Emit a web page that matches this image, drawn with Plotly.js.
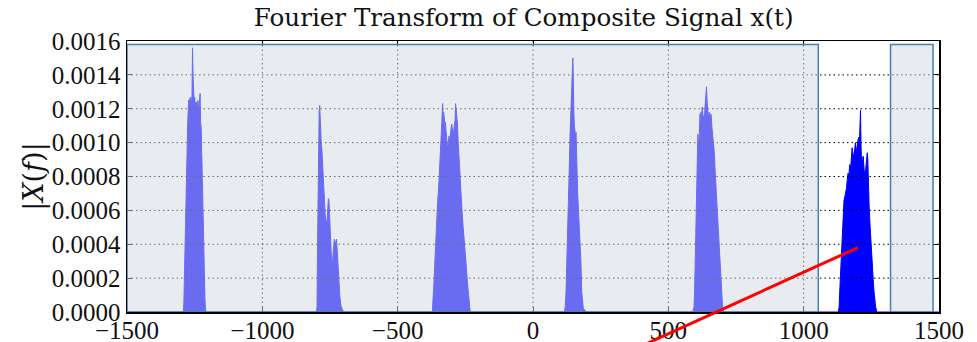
<!DOCTYPE html>
<html><head><meta charset="utf-8">
<script src="https://cdn.plot.ly/plotly-3.0.1.min.js"></script>
<style>html,body{margin:0;padding:0;background:#fff}#chart{width:977px;height:342px}</style>
</head><body><div id="chart"></div>
<script>
const titleText = 'Fourier Transform of Composite Signal x(t)';
const yLabel = '|<i>X</i>(<i>f</i>)|';
const xTicks = [-1500, -1000, -500, 0, 500, 1000, 1500];
const yTicks = [0, 0.0002, 0.0004, 0.0006, 0.0008, 0.0010, 0.0012, 0.0014, 0.0016];

const c1X = [-1292,-1290,-1288,-1286,-1284,-1282,-1280,-1278,-1276,-1274,-1272,-1270,-1268,-1266,-1264,-1262,-1260,-1258,-1256,-1254,-1252,-1250,-1248,-1246,-1244,-1242,-1240,-1238,-1236,-1234,-1232,-1230,-1228,-1226,-1224,-1222,-1220,-1218,-1216,-1214,-1212,-1210,-1208];
const c1Y = [0,0.00005,0.0002,0.0004,0.0006,0.0008,0.00097,0.00099,0.00110,0.00118,0.00125,0.00123,0.00126,0.00124,0.00127,0.00122,0.00126,0.00156,0.00140,0.00125,0.00123,0.00127,0.00121,0.00124,0.00119,0.00124,0.00122,0.00125,0.00121,0.00118,0.00124,0.00129,0.00112,0.00109,0.00095,0.00078,0.00062,0.00048,0.00034,0.00020,0.00008,0.00002,0];

const c2X = [-800,-798,-796,-794,-792,-790,-788,-786,-784,-782,-780,-778,-776,-774,-772,-770,-768,-766,-764,-762,-760,-758,-756,-754,-752,-750,-748,-746,-744,-742,-740,-738,-736,-734,-732,-730,-728,-726,-724,-722,-720,-718,-716,-714,-712,-710,-706,-700];
const c2Y = [0,0.00003,0.0004,0.0008,0.0011,0.00118,0.00122,0.00108,0.00104,0.00098,0.00096,0.00088,0.00083,0.00072,0.00066,0.00062,0.00058,0.00055,0.00053,0.00052,0.00056,0.00064,0.00067,0.00066,0.00058,0.00050,0.00042,0.00036,0.00030,0.00029,0.00031,0.00036,0.00041,0.00043,0.00042,0.00040,0.00041,0.00043,0.00038,0.00030,0.00026,0.00022,0.00016,0.00010,0.00006,0.00004,0.00002,0];

const c3X = [-372,-370,-367,-365,-362,-360,-358,-355,-352,-349,-346,-343,-341,-339,-337,-335,-334,-332,-330,-328,-326,-324,-321,-318,-316,-313,-310,-308,-306,-303,-300,-298,-296,-294,-291,-288,-286,-284,-282,-279,-277,-275,-272,-269,-266,-263,-259,-255,-251,-247,-242,-238,-235,-232];
const c3Y = [0,0.00004,0.00014,0.00021,0.00033,0.00043,0.00052,0.00058,0.00066,0.00072,0.00080,0.00091,0.00098,0.00105,0.00112,0.00118,0.00123,0.00116,0.00118,0.00115,0.00110,0.00112,0.00105,0.00100,0.00097,0.00100,0.00104,0.00101,0.00102,0.00108,0.00111,0.00108,0.00104,0.00105,0.00110,0.00113,0.00123,0.00120,0.00113,0.00111,0.00102,0.00095,0.00085,0.00076,0.00070,0.00062,0.00052,0.00045,0.00036,0.00028,0.00017,0.00008,0.00002,0];

const c4X = [116,119,122,125,128,131,134,137,139,141,143,145,147,148,149,151,153,155,157,159,161,163,165,168,171,174,177,180,183,186,192,198];
const c4Y = [0,0.00003,0.00012,0.00027,0.00045,0.00066,0.00085,0.00105,0.00115,0.00125,0.00128,0.00138,0.00150,0.00146,0.00125,0.00118,0.00110,0.00105,0.00104,0.00106,0.00089,0.00080,0.00070,0.00060,0.00052,0.00044,0.00030,0.00012,0.00006,0.00002,0.00001,0];

const c5X = [590,595,597,599,601,603,605,607,609,611,613,615,617,619,621,623,625,627,629,631,633,635,637,639,641,643,645,647,649,651,653,655,657,659,661,664,667,670,673,676,679,682,685,688,691,694,697,700,703,706];
const c5Y = [0,0.00003,0.00012,0.00025,0.00040,0.00055,0.00068,0.00085,0.00105,0.00100,0.00098,0.00112,0.00117,0.00113,0.00118,0.00116,0.00121,0.00118,0.00113,0.00116,0.00112,0.00120,0.00124,0.00128,0.00133,0.00125,0.00118,0.00120,0.00113,0.00118,0.00114,0.00112,0.00117,0.00115,0.00109,0.00104,0.00097,0.00094,0.00083,0.00074,0.00064,0.00054,0.00045,0.00036,0.00028,0.00021,0.00012,0.00004,0.00001,0];

const c6X = [1128,1131,1134,1137,1140,1143,1146,1149,1152,1155,1158,1161,1164,1167,1170,1173,1176,1179,1182,1185,1188,1191,1194,1197,1200,1203,1206,1208,1210,1212,1214,1217,1220,1223,1226,1229,1232,1235,1237,1239,1242,1245,1248,1251,1254,1257,1260,1263,1266,1270];
const c6Y = [0,0.00003,0.00015,0.00025,0.00035,0.00050,0.00062,0.00066,0.00068,0.00070,0.00073,0.00078,0.00082,0.00080,0.00087,0.00084,0.00090,0.00097,0.00094,0.00091,0.00095,0.00100,0.00097,0.00094,0.00101,0.00103,0.00100,0.00110,0.00119,0.00098,0.00088,0.00090,0.00092,0.00085,0.00080,0.00084,0.00088,0.00094,0.00090,0.00074,0.00062,0.00052,0.00042,0.00034,0.00025,0.00019,0.00012,0.00006,0.00003,0];

const bandStart = [-1500, 1321];
const bandEnd = [1054, 1478];
const bandTop = 0.00158;

const pointerX = [1200, 432];
const pointerY = [0.00038, -0.000178];

// geometry
const W = 977, H = 342;
const M = {l: 127, r: 38, t: 41, b: 30};
const xRange = [-1500, 1500], yRange = [0, 0.0016];
const toPaperX = v => (v - xRange[0]) / (xRange[1] - xRange[0]);
const toPaperY = v => (v - yRange[0]) / (yRange[1] - yRange[0]);

const allX = [xRange[0]].concat(c1X, c2X, c3X, c4X, c5X, c6X, [xRange[1]]);
const allY = [0].concat(c1Y, c2Y, c3Y, c4Y, c5Y, c6Y, [0]);

const trace = {
  x: allX, y: allY, type: 'scatter', mode: 'lines',
  line: {color: '#0000ff', width: 1},
  fill: 'tozeroy', fillcolor: '#0000ff',
  hoverinfo: 'skip'
};

const shapes = [];
const gridStyle = {color: '#000', width: 1, dash: '1.5px,3px'};
xTicks.slice(1, -1).forEach(v => shapes.push({type: 'line', xref: 'x', yref: 'paper', x0: v, x1: v, y0: 0, y1: 1, line: gridStyle, layer: 'above'}));
yTicks.slice(1, -1).forEach(v => shapes.push({type: 'line', xref: 'paper', yref: 'y', x0: 0, x1: 1, y0: v, y1: v, line: gridStyle, layer: 'above'}));
bandStart.forEach((s, i) => shapes.push({type: 'rect', xref: 'x', yref: 'y', x0: s, x1: bandEnd[i], y0: 0, y1: bandTop,
  fillcolor: 'rgba(209,215,226,0.5)', line: {color: '#4a7db0', width: 1.5}, layer: 'above'}));

// red pointer line (paper refs so it is not clipped at the axes)
const ext = 1.6;
const hx = toPaperX(pointerX[0]), hy = toPaperY(pointerY[0]);
const tx = toPaperX(pointerX[1]), ty = toPaperY(pointerY[1]);
shapes.push({type: 'line', xref: 'paper', yref: 'paper', x0: hx, y0: hy,
  x1: hx + (tx - hx) * ext, y1: hy + (ty - hy) * ext,
  line: {color: '#ff0000', width: 3}, layer: 'above'});

const serif = 'Liberation Serif, DejaVu Serif, serif';
const layout = {
  width: W, height: H, margin: M,
  paper_bgcolor: '#fff', plot_bgcolor: '#fff',
  showlegend: false,
  title: {text: titleText, font: {family: 'DejaVu Serif, serif', size: 24.6, color: '#111'}, x: 0.536, xanchor: 'center', y: 0.948, yanchor: 'middle'},
  xaxis: {range: xRange, tickvals: xTicks, showgrid: false, zeroline: false,
    showline: true, linecolor: '#000', linewidth: 1.5, mirror: 'allticks',
    ticks: 'inside', ticklen: 5, tickcolor: '#000', layer: 'above traces',
    tickfont: {family: serif, size: 25, color: '#111'}, ticklabelstandoff: -5},
  yaxis: {range: yRange, tickvals: yTicks, tickformat: '.4f', showgrid: false, zeroline: false,
    showline: true, linecolor: '#000', linewidth: 1.5, mirror: 'allticks',
    ticks: 'inside', ticklen: 5, tickcolor: '#000', layer: 'above traces',
    tickfont: {family: serif, size: 25, color: '#111'},
    title: {text: yLabel, font: {family: 'DejaVu Serif, serif', size: 27, color: '#111'}, standoff: 0}},
  shapes: shapes
};

Plotly.newPlot('chart', [trace], layout, {displayModeBar: false, staticPlot: true});
</script>
</body></html>
